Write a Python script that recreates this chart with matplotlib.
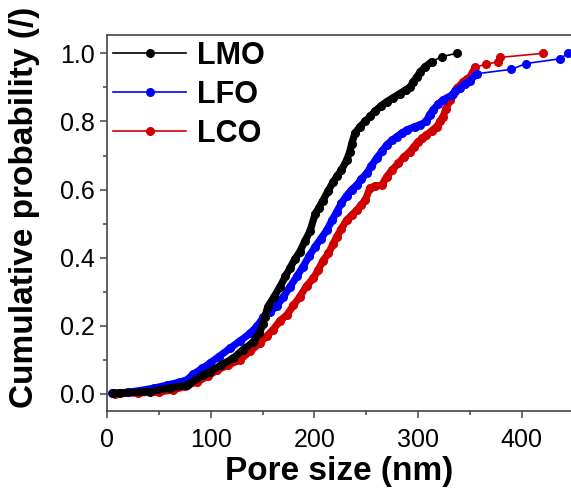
import matplotlib.pyplot as plt
from matplotlib.ticker import MultipleLocator

plt.rcParams['font.family'] = ['Liberation Sans', 'DejaVu Sans']

# pore size (nm) vs cumulative probability
lmo_x = [6, 12.5, 41.5, 61, 77, 92.6, 99, 110, 121.7, 131, 141, 147, 150.5, 152,
         155, 161, 166.8, 172, 176.5, 181, 186, 191, 195.8, 200.6, 204, 208, 213,
         218, 222, 226, 231, 234, 236, 239, 244, 248.8, 254, 258.4, 264, 269.7,
         276, 282.6, 288, 292, 295, 298.6, 302, 306.6, 313, 322.7, 337]
lmo_y = [0.002, 0.003, 0.007, 0.018, 0.025, 0.055, 0.065, 0.085, 0.105, 0.13,
         0.152, 0.18, 0.205, 0.225, 0.256, 0.285, 0.315, 0.345, 0.37, 0.395,
         0.418, 0.45, 0.478, 0.528, 0.545, 0.567, 0.595, 0.622, 0.64, 0.657,
         0.686, 0.71, 0.735, 0.765, 0.785, 0.80, 0.815, 0.83, 0.845, 0.858,
         0.87, 0.882, 0.893, 0.90, 0.915, 0.93, 0.945, 0.96, 0.975, 0.99, 1.0]

lfo_x = [5, 20, 32, 45, 58, 70, 77, 83, 92, 99, 108, 118.6, 128, 138, 145,
         150.7, 157, 163.6, 170, 176.5, 183, 189, 195, 200.6, 206, 212, 217,
         221.5, 226, 231, 236, 240.8, 245, 250.4, 255, 260, 265, 269.7, 275,
         279.4, 284, 289, 297, 302, 308, 311, 314.6, 319, 324, 332.4, 336,
         340.4, 345, 350, 356.5, 390, 404, 437, 444.5]
lfo_y = [0.002, 0.005, 0.01, 0.017, 0.026, 0.035, 0.041, 0.058, 0.075, 0.09,
         0.11, 0.134, 0.155, 0.178, 0.2, 0.225, 0.24, 0.258, 0.285, 0.315,
         0.345, 0.374, 0.405, 0.432, 0.455, 0.481, 0.51, 0.535, 0.56, 0.582,
         0.6, 0.613, 0.63, 0.648, 0.67, 0.692, 0.712, 0.731, 0.745, 0.755,
         0.765, 0.775, 0.785, 0.79, 0.80, 0.82, 0.834, 0.85, 0.863, 0.877,
         0.888, 0.897, 0.91, 0.92, 0.94, 0.953, 0.97, 0.984, 1.0]

lco_x = [8, 30, 50, 64, 75, 87, 97, 106, 117, 128, 138, 147.5, 154, 160, 166.8,
         173.5, 179.7, 186, 192.6, 199, 203.8, 208, 213.5, 218, 221.5, 226, 231,
         236, 241, 245, 249, 253.6, 258, 265, 269.7, 275, 281, 286, 292, 296,
         300, 304, 308, 313, 318, 321, 324, 327, 330.8, 334, 337, 340, 343.6,
         347, 350, 355, 365.5, 377, 379, 420.7]
lco_y = [0.001, 0.003, 0.006, 0.012, 0.022, 0.036, 0.052, 0.07, 0.085, 0.10,
         0.125, 0.15, 0.17, 0.188, 0.215, 0.232, 0.26, 0.286, 0.318, 0.34,
         0.365, 0.39, 0.413, 0.44, 0.462, 0.485, 0.51, 0.525, 0.54, 0.555,
         0.569, 0.605, 0.61, 0.613, 0.638, 0.658, 0.677, 0.695, 0.711, 0.726,
         0.741, 0.75, 0.76, 0.772, 0.785, 0.80, 0.814, 0.838, 0.863, 0.88,
         0.897, 0.905, 0.917, 0.925, 0.93, 0.959, 0.968, 0.975, 0.988, 1.0]

series = [
    ('LCO', lco_x, lco_y, '#d00000', 56, 3),
    ('LFO', lfo_x, lfo_y, '#0000ff', 55, 4),
    ('LMO', lmo_x, lmo_y, 'black', 49, 5),
]

fig = plt.figure(figsize=(5.71, 4.91), dpi=100)
ax = fig.add_axes([0.1874, 0.1629, 0.8126, 0.7664])

for name, xs, ys, c, dense, z in series:
    # the measured points are so dense they merge into a thick band
    ax.plot(xs[:dense], ys[:dense], '-', color=c, lw=5.2,
            solid_capstyle='round', solid_joinstyle='round', zorder=z)
    ax.plot(xs, ys, '-o', color=c, lw=1.2, ms=5.5, label=name, zorder=z)

ax.set_xlim(0, 447.4)
ax.set_ylim(-0.05, 1.0546)
ax.xaxis.set_major_locator(MultipleLocator(100))
ax.xaxis.set_minor_locator(MultipleLocator(50))
ax.yaxis.set_major_locator(MultipleLocator(0.2))
ax.yaxis.set_minor_locator(MultipleLocator(0.1))
ax.yaxis.set_major_formatter(plt.FormatStrFormatter('%.1f'))

for s in ['left', 'bottom', 'top']:
    ax.spines[s].set_color('#444444')
    ax.spines[s].set_linewidth(1.2)
ax.spines['right'].set_visible(False)

ax.tick_params(which='major', direction='out', length=5, width=1.1,
               color='#444444', labelsize=18)
ax.tick_params(which='minor', direction='out', length=3, width=1.1, color='#444444')
ax.tick_params(axis='x', pad=7)
ax.tick_params(axis='y', pad=4)

ax.set_xlabel('Pore size (nm)', fontsize=24, fontweight='bold', labelpad=3)
ax.set_ylabel('Cumulative probability (/)', fontsize=24, fontweight='bold')
ax.yaxis.set_label_coords(-0.145, 0.54)

h, l = ax.get_legend_handles_labels()
leg = ax.legend(h[::-1], l[::-1], loc='upper left', frameon=False,
                prop={'size': 22, 'weight': 'bold'}, handlelength=2.4,
                handletextpad=0.35, labelspacing=0.3, borderaxespad=0.1,
                borderpad=0.1)

fig.savefig('out.png', dpi=100)
